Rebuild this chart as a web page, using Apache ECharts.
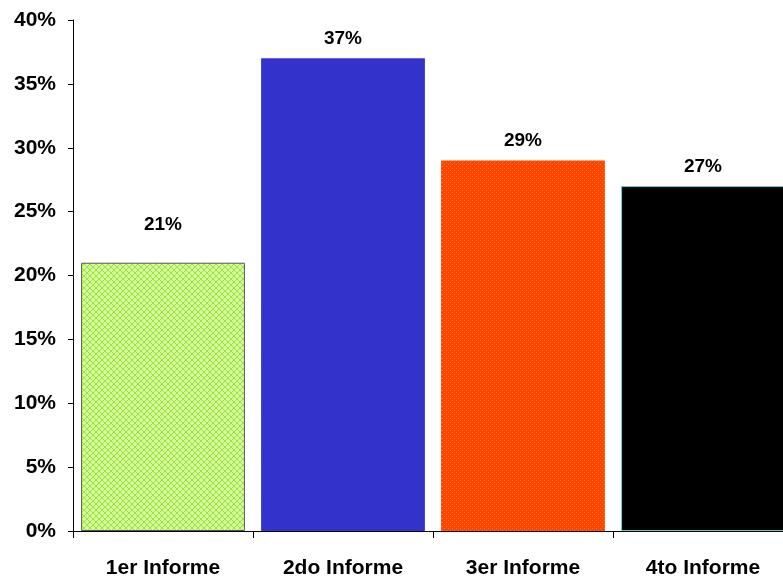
<!DOCTYPE html>
<html><head><meta charset="utf-8">
<script src="https://cdn.jsdelivr.net/npm/echarts@6/dist/echarts.min.js"></script>
<style>html,body{margin:0;padding:0;background:#fff}#c{width:783px;height:580px}</style>
</head><body><div id="c"></div>
<script>
const categories = ['1er Informe', '2do Informe', '3er Informe', '4to Informe'];
const values = [21, 37, 29, 27];
const yTicks = [0, 5, 10, 15, 20, 25, 30, 35, 40];

function makeGreen() {
  const c = document.createElement('canvas'); c.width = 6; c.height = 6;
  const g = c.getContext('2d');
  g.fillStyle = '#ccff99'; g.fillRect(0, 0, 6, 6);
  g.fillStyle = '#a6e03c';
  for (let i = 0; i < 6; i++) { g.fillRect(i, i, 1, 1); g.fillRect(5 - i, i, 1, 1); }
  g.fillStyle = '#e6ffcc'; g.fillRect(3, 0, 1, 1); g.fillRect(0, 3, 1, 1);
  return c;
}
function makeOrange() {
  const c = document.createElement('canvas'); c.width = 4; c.height = 4;
  const g = c.getContext('2d');
  g.fillStyle = '#ff4400'; g.fillRect(0, 0, 4, 4);
  g.fillStyle = '#ff7a00';
  g.fillRect(0, 0, 1, 1); g.fillRect(2, 2, 1, 1);
  return c;
}

const styles = [
  { color: { image: makeGreen(), repeat: 'repeat' }, borderColor: '#555', borderWidth: 1 },
  { color: '#3333cc' },
  { color: { image: makeOrange(), repeat: 'repeat' } },
  { color: '#000000', borderColor: '#66cccc', borderWidth: 1 }
];

const chart = echarts.init(document.getElementById('c'));
chart.setOption({
  animation: false,
  grid: { left: 73, width: 720, top: 20, height: 511, containLabel: false, outerBoundsMode: 'none' },
  xAxis: {
    type: 'category', data: categories,
    axisLine: { lineStyle: { color: '#000', width: 1 } },
    axisTick: { show: true, length: 7, lineStyle: { color: '#000' } },
    axisLabel: { color: '#000', fontFamily: 'Liberation Sans', fontWeight: 'bold', fontSize: 21, margin: 27 }
  },
  yAxis: {
    type: 'value', min: 0, max: 40, interval: 5,
    axisLine: { show: true, lineStyle: { color: '#000', width: 1 } },
    axisTick: { show: true, length: 5, lineStyle: { color: '#000' } },
    splitLine: { show: false },
    axisLabel: { color: '#000', fontFamily: 'Liberation Sans', fontWeight: 'bold', fontSize: 21, margin: 17, formatter: v => v + '%' }
  },
  series: [{
    type: 'bar', barCategoryGap: '9%',
    data: values.map((v, i) => ({
      value: v, itemStyle: styles[i],
      label: i === 0 ? { distance: 28 } : {}
    })),
    label: { show: true, position: 'top', distance: 10, color: '#000', fontFamily: 'Liberation Sans', fontWeight: 'bold', fontSize: 19, formatter: p => p.value + '%' }
  }]
});
</script></body></html>
